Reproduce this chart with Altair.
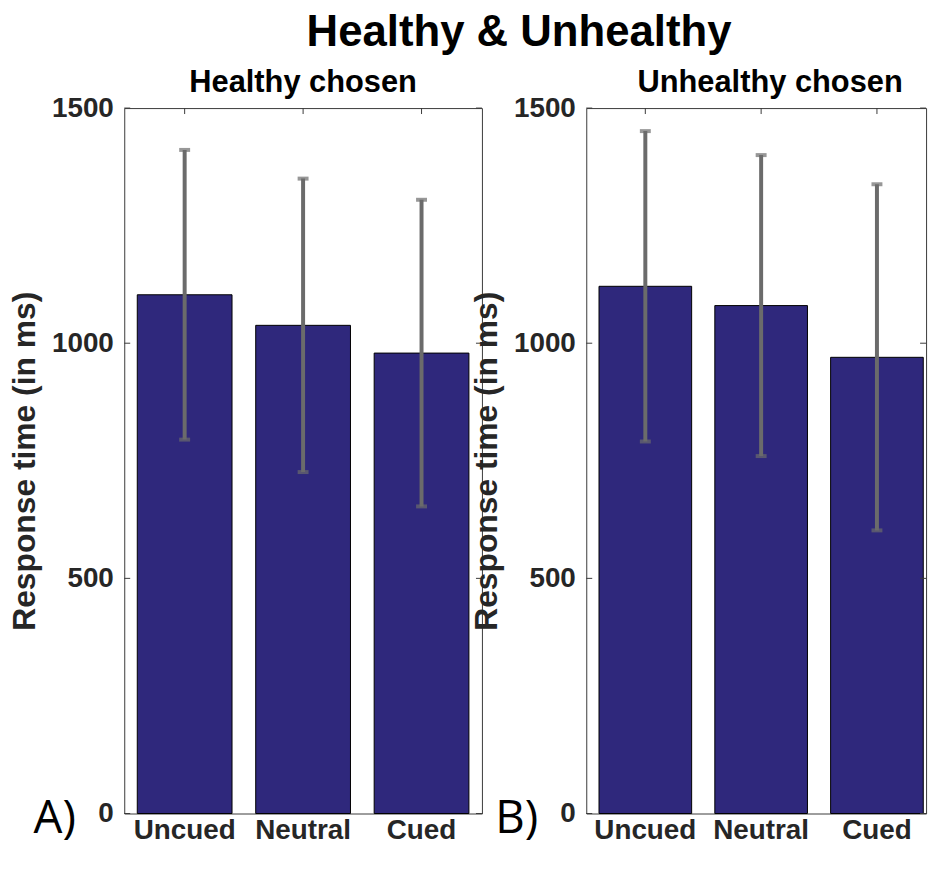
import altair as alt
import pandas as pd

conditions = ["Uncued", "Neutral", "Cued"]
healthy_mean = [1103, 1038, 979]
healthy_err = [308, 312, 326]
unhealthy_mean = [1121, 1080, 970]
unhealthy_err = [330, 320, 368]
y_ticks = [0, 500, 1000, 1500]
panel_titles = ["Healthy chosen", "Unhealthy chosen"]
panel_letters = ["A)", "B)"]
main_title = "Healthy & Unhealthy"
y_title = "Response time (in ms)"

BAR = "#2f287c"
ERR = "#6b6b6b"
FRAME = "#3a3a3a"
TXT = "#262626"
H = 710


def panel(means, errs, title, letter, width, full_w, title_dx):
    df = pd.DataFrame({
        "cond": conditions,
        "mean": means,
        "lo": [m - e for m, e in zip(means, errs)],
        "hi": [m + e for m, e in zip(means, errs)],
    })
    xs = alt.Scale(domain=conditions, range=[0, full_w], paddingInner=0.2, paddingOuter=0.11)
    ys = alt.Scale(domain=[0, 1500], nice=False, zero=True)
    xax = alt.Axis(title=None, labelAngle=0, domain=False, ticks=False,
                   labelFontSize=28, labelFontWeight="bold", labelColor=TXT,
                   labelPadding=3, labelFont="Liberation Sans")
    yax = alt.Axis(values=y_ticks, format="d", title=y_title, domain=False, ticks=False,
                   grid=False, labelFontSize=28, labelFontWeight="bold",
                   labelColor=TXT, labelPadding=11, titleFontSize=32,
                   titleFontWeight="bold", titleColor=TXT, titlePadding=10,
                   labelFont="Liberation Sans", titleFont="Liberation Sans")
    xe = alt.X("cond:N", scale=xs, sort=conditions, axis=xax)

    def ye(f):
        return alt.Y(f, scale=ys, axis=yax)

    bars = alt.Chart(df).mark_bar(color=BAR, stroke="black", strokeWidth=1).encode(
        x=xe, y=ye("mean:Q"))
    err = alt.Chart(df).mark_rule(color=ERR, strokeWidth=4).encode(
        x=xe, y=ye("lo:Q"), y2="hi:Q")
    cap_hi = alt.Chart(df).mark_tick(color=ERR, size=11, thickness=4).encode(
        x=xe, y=ye("hi:Q"))
    cap_lo = alt.Chart(df).mark_tick(color=ERR, size=11, thickness=4).encode(
        x=xe, y=ye("lo:Q"))

    tdf = pd.DataFrame({"v": y_ticks})
    lt = alt.Chart(tdf).mark_rule(color=FRAME, strokeWidth=1).encode(
        y=ye("v:Q"), x=alt.value(0), x2=alt.value(6))
    rt = alt.Chart(tdf).mark_rule(color=FRAME, strokeWidth=1).encode(
        y=ye("v:Q"), x=alt.value(width - 6), x2=alt.value(width))
    tt = alt.Chart(df).mark_rule(color=FRAME, strokeWidth=1).encode(
        x=xe, y=alt.value(0), y2=alt.value(6))

    ldf = pd.DataFrame({"lbl": [letter]})
    lab = alt.Chart(ldf).mark_text(font="Open Sans", fontSize=46, fontWeight="normal",
                                   color="black", align="center", baseline="alphabetic").encode(
        text="lbl:N", x=alt.value(-70), y=alt.value(H + 20))

    return alt.layer(bars, err, cap_hi, cap_lo, lt, rt, tt, lab).properties(
        width=width, height=H,
        title=alt.TitleParams(title, fontSize=31, fontWeight="bold", font="Liberation Sans",
                              color="black", offset=-5, anchor="middle", dx=title_dx),
    )


pa = panel(healthy_mean, healthy_err, panel_titles[0], panel_letters[0], 360, 360, 0)
pb = panel(unhealthy_mean, unhealthy_err, panel_titles[1], panel_letters[1], 342, 352, 14)

chart = alt.hconcat(pa, pb, spacing=105, bounds="flush").properties(
    title=alt.TitleParams(main_title, fontSize=44, fontWeight="bold", font="Liberation Sans",
                          color="black", anchor="middle", offset=12, dx=47),
    padding={"left": 0, "top": 0, "right": 0, "bottom": 0},
).configure_view(stroke=FRAME, strokeWidth=1)

chart.save("out.html", embed_options={"renderer": "svg", "actions": False})
